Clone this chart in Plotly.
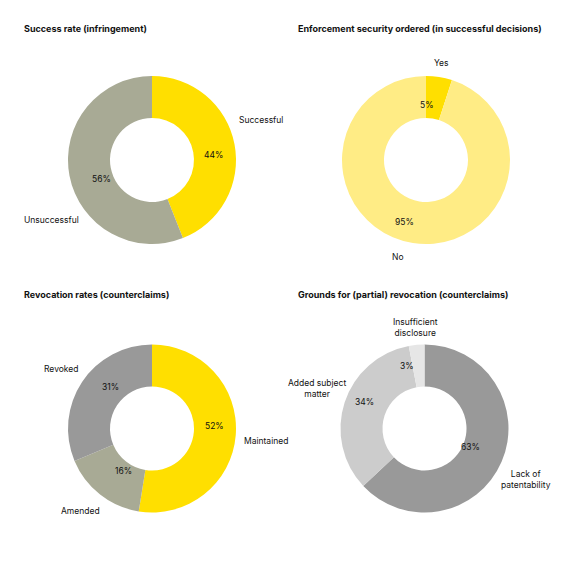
import math
import plotly.graph_objects as go

W = H = 576

# ---- data ----
c1_labels = ["Successful", "Unsuccessful"]
c1_values = [44, 56]
c2_labels = ["Yes", "No"]
c2_values = [5, 95]
c3_labels = ["Maintained", "Amended", "Revoked"]
c3_values = [52, 16, 31]
c4_labels = ["Lack of patentability", "Added subject matter", "Insufficient disclosure"]
c4_values = [63, 34, 3]

titles = ["Success rate (infringement)",
          "Enforcement security ordered (in successful decisions)",
          "Revocation rates (counterclaims)",
          "Grounds for (partial) revocation (counterclaims)"]

YELLOW = "#FFDF00"
LIGHT_YELLOW = "#FFEC85"
OLIVE = "#A8AA95"
GREY = "#999999"
LGREY = "#CCCCCC"
XLGREY = "#E6E6E6"

FONT = "Inter"
R = 84  # outer radius px

charts = [
    dict(labels=c1_labels, values=c1_values, colors=[YELLOW, OLIVE], cx=152, cy=160),
    dict(labels=c2_labels, values=c2_values, colors=[YELLOW, LIGHT_YELLOW], cx=426, cy=160),
    dict(labels=c3_labels, values=c3_values, colors=[YELLOW, OLIVE, GREY], cx=152, cy=428.5),
    dict(labels=c4_labels, values=c4_values, colors=[GREY, LGREY, XLGREY], cx=424.5, cy=428.5),
]

fig = go.Figure()
annotations = []
for ch in charts:
    cx, cy = ch["cx"], ch["cy"]
    dom_x = [(cx - R) / W, (cx + R) / W]
    dom_y = [1 - (cy + R) / H, 1 - (cy - R) / H]
    fig.add_trace(go.Pie(
        labels=ch["labels"], values=ch["values"],
        marker=dict(colors=ch["colors"], line=dict(width=0)),
        hole=0.5, sort=False, direction="clockwise", rotation=0,
        textinfo="none", domain=dict(x=dom_x, y=dom_y), showlegend=False,
    ))
    # percentage labels at mid-angle, mid-radius
    total = sum(ch["values"])
    cum = 0
    for v in ch["values"]:
        mid = (cum + v / 2) / total * 2 * math.pi
        cum += v
        rr = 0.75 * R
        px = cx + rr * math.sin(mid)
        py = cy - rr * math.cos(mid)
        if v < 4:
            px -= 3  # small slice label nudged as in the original
        annotations.append(dict(x=px / W, y=1 - py / H, xref="paper", yref="paper",
                                text=f"{v}%", showarrow=False,
                                font=dict(family=FONT, size=8.5, color="#111")))

# titles
title_pos = [(22, 28), (296, 28), (22, 294), (296, 294)]
for t, (tx, ty) in zip(titles, title_pos):
    annotations.append(dict(x=tx / W, y=1 - ty / H, xref="paper", yref="paper",
                            text=f"<b>{t}</b>", showarrow=False, xanchor="left", yanchor="middle",
                            font=dict(family=FONT, size=9, color="#111")))

# outer category labels (x, y, anchor)
outer = [
    ("Successful", 237, 120.5, "left"),
    ("Unsuccessful", 22, 220, "left"),
    ("Yes", 441, 63, "center"),
    ("No", 398, 257, "center"),
    ("Revoked", 42, 369, "left"),
    ("Maintained", 242, 441, "left"),
    ("Amended", 59, 510.5, "left"),
    ("Insufficient<br>disclosure", 415.5, 327, "center"),
    ("Added subject<br>matter", 316.5, 388, "center"),
    ("Lack of<br>patentability", 525.5, 479.5, "center"),
]
for txt, ox, oy, anc in outer:
    annotations.append(dict(x=ox / W, y=1 - oy / H, xref="paper", yref="paper",
                            text=txt, showarrow=False, xanchor=anc, yanchor="middle",
                            font=dict(family=FONT, size=8.5, color="#111")))

fig.update_layout(
    width=W, height=H, margin=dict(l=0, r=0, t=0, b=0),
    paper_bgcolor="white", plot_bgcolor="white",
    annotations=annotations,
)
fig.write_html("out.html")
